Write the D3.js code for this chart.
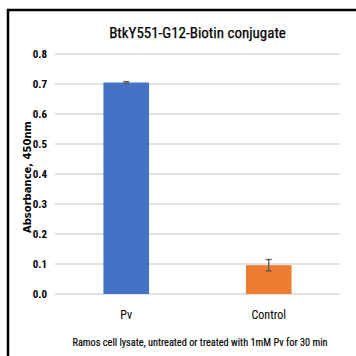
<!DOCTYPE html>
<html>
<head>
<meta charset="utf-8">
<script src="https://cdn.jsdelivr.net/npm/d3@7"></script>
<style>
  html, body { margin: 0; padding: 0; background: #fff; }
  svg { display: block; }
  .narrow { font-family: "Liberation Sans Narrow", "Arial Narrow", "Roboto Condensed", sans-serif; }
</style>
</head>
<body>
<svg id="chart" width="356" height="356"></svg>
<script>
// Absorbance readings (450 nm) for the two samples
const categories = ["Pv", "Control"];
const values = [0.705, 0.096];
const errors = [0.003, 0.019];
const yTicks = [0.0, 0.1, 0.2, 0.3, 0.4, 0.5, 0.6, 0.7, 0.8];
const colors = ["#4472C4", "#ED7D31"];
const titleText = "BtkY551-G12-Biotin conjugate";
const yTitle = "Absorbance, 450nm";
const xTitle = "Ramos cell lysate, untreated or treated with 1mM Pv for 30 min";

const svg = d3.select("#chart");

// Frame around the chart area
svg.append("rect")
  .attr("x", 8).attr("y", 10)
  .attr("width", 420).attr("height", 420)
  .attr("fill", "none").attr("stroke", "#000").attr("stroke-width", 2.5);

const plot = { left: 55, right: 340, top: 54, bottom: 294 };

const x = d3.scaleBand()
  .domain(categories)
  .range([plot.left, plot.right])
  .paddingInner(0.68)
  .paddingOuter(0.34);

const y = d3.scaleLinear()
  .domain([0, 0.8])
  .range([plot.bottom, plot.top]);

// Horizontal gridlines
svg.append("g")
  .selectAll("line")
  .data(yTicks)
  .join("line")
  .attr("x1", plot.left).attr("x2", plot.right)
  .attr("y1", d => y(d)).attr("y2", d => y(d))
  .attr("stroke", "#d9d9d9").attr("stroke-width", 1.5);

// Y axis labels
const yAxis = d3.axisLeft(y)
  .tickValues(yTicks)
  .tickFormat(d3.format(".1f"))
  .tickSize(0)
  .tickPadding(8);
const yG = svg.append("g")
  .attr("transform", `translate(${plot.left},0)`)
  .call(yAxis);
yG.select(".domain").remove();
yG.selectAll("text")
  .attr("class", "narrow")
  .attr("font-size", 11)
  .attr("font-weight", "bold")
  .attr("fill", "#000");

// Bars
svg.append("g")
  .selectAll("rect")
  .data(categories)
  .join("rect")
  .attr("x", d => x(d))
  .attr("width", x.bandwidth())
  .attr("y", (d, i) => y(values[i]))
  .attr("height", (d, i) => y(0) - y(values[i]))
  .attr("fill", (d, i) => colors[i]);

// Error bars
const eb = svg.append("g")
  .attr("stroke", "#595959").attr("stroke-width", 1.3);
categories.forEach((c, i) => {
  const cx = x(c) + x.bandwidth() / 2;
  const yHi = y(values[i] + errors[i]);
  const yLo = y(values[i] - errors[i]);
  eb.append("line").attr("x1", cx).attr("x2", cx).attr("y1", yHi).attr("y2", yLo);
  eb.append("line").attr("x1", cx - 3).attr("x2", cx + 3).attr("y1", yHi).attr("y2", yHi);
  eb.append("line").attr("x1", cx - 3).attr("x2", cx + 3).attr("y1", yLo).attr("y2", yLo);
});

// Category labels
const xAxis = d3.axisBottom(x).tickSize(0).tickPadding(16);
const xG = svg.append("g")
  .attr("transform", `translate(0,${plot.bottom})`)
  .call(xAxis);
xG.select(".domain").remove();
xG.selectAll("text")
  .attr("class", "narrow")
  .attr("font-size", 12)
  .attr("fill", "#000");

// Chart title
svg.append("text")
  .attr("class", "narrow")
  .attr("x", 197.5).attr("y", 38)
  .attr("text-anchor", "middle")
  .attr("font-size", 15)
  .attr("stroke", "#000").attr("stroke-width", 0.25)
  .attr("fill", "#000")
  .text(titleText);

// Y axis title
svg.append("text")
  .attr("transform", "translate(31,177) rotate(-90)")
  .attr("text-anchor", "middle")
  .attr("font-family", "DejaVu Sans, Verdana, sans-serif")
  .attr("font-size", 10)
  .attr("font-weight", "bold")
  .attr("fill", "#000")
  .text(yTitle);

// X axis title
svg.append("text")
  .attr("class", "narrow")
  .attr("x", 200).attr("y", 346)
  .attr("text-anchor", "middle")
  .attr("font-size", 10.3)
  .attr("stroke", "#000").attr("stroke-width", 0.15)
  .attr("fill", "#000")
  .text(xTitle);
</script>
</body>
</html>
